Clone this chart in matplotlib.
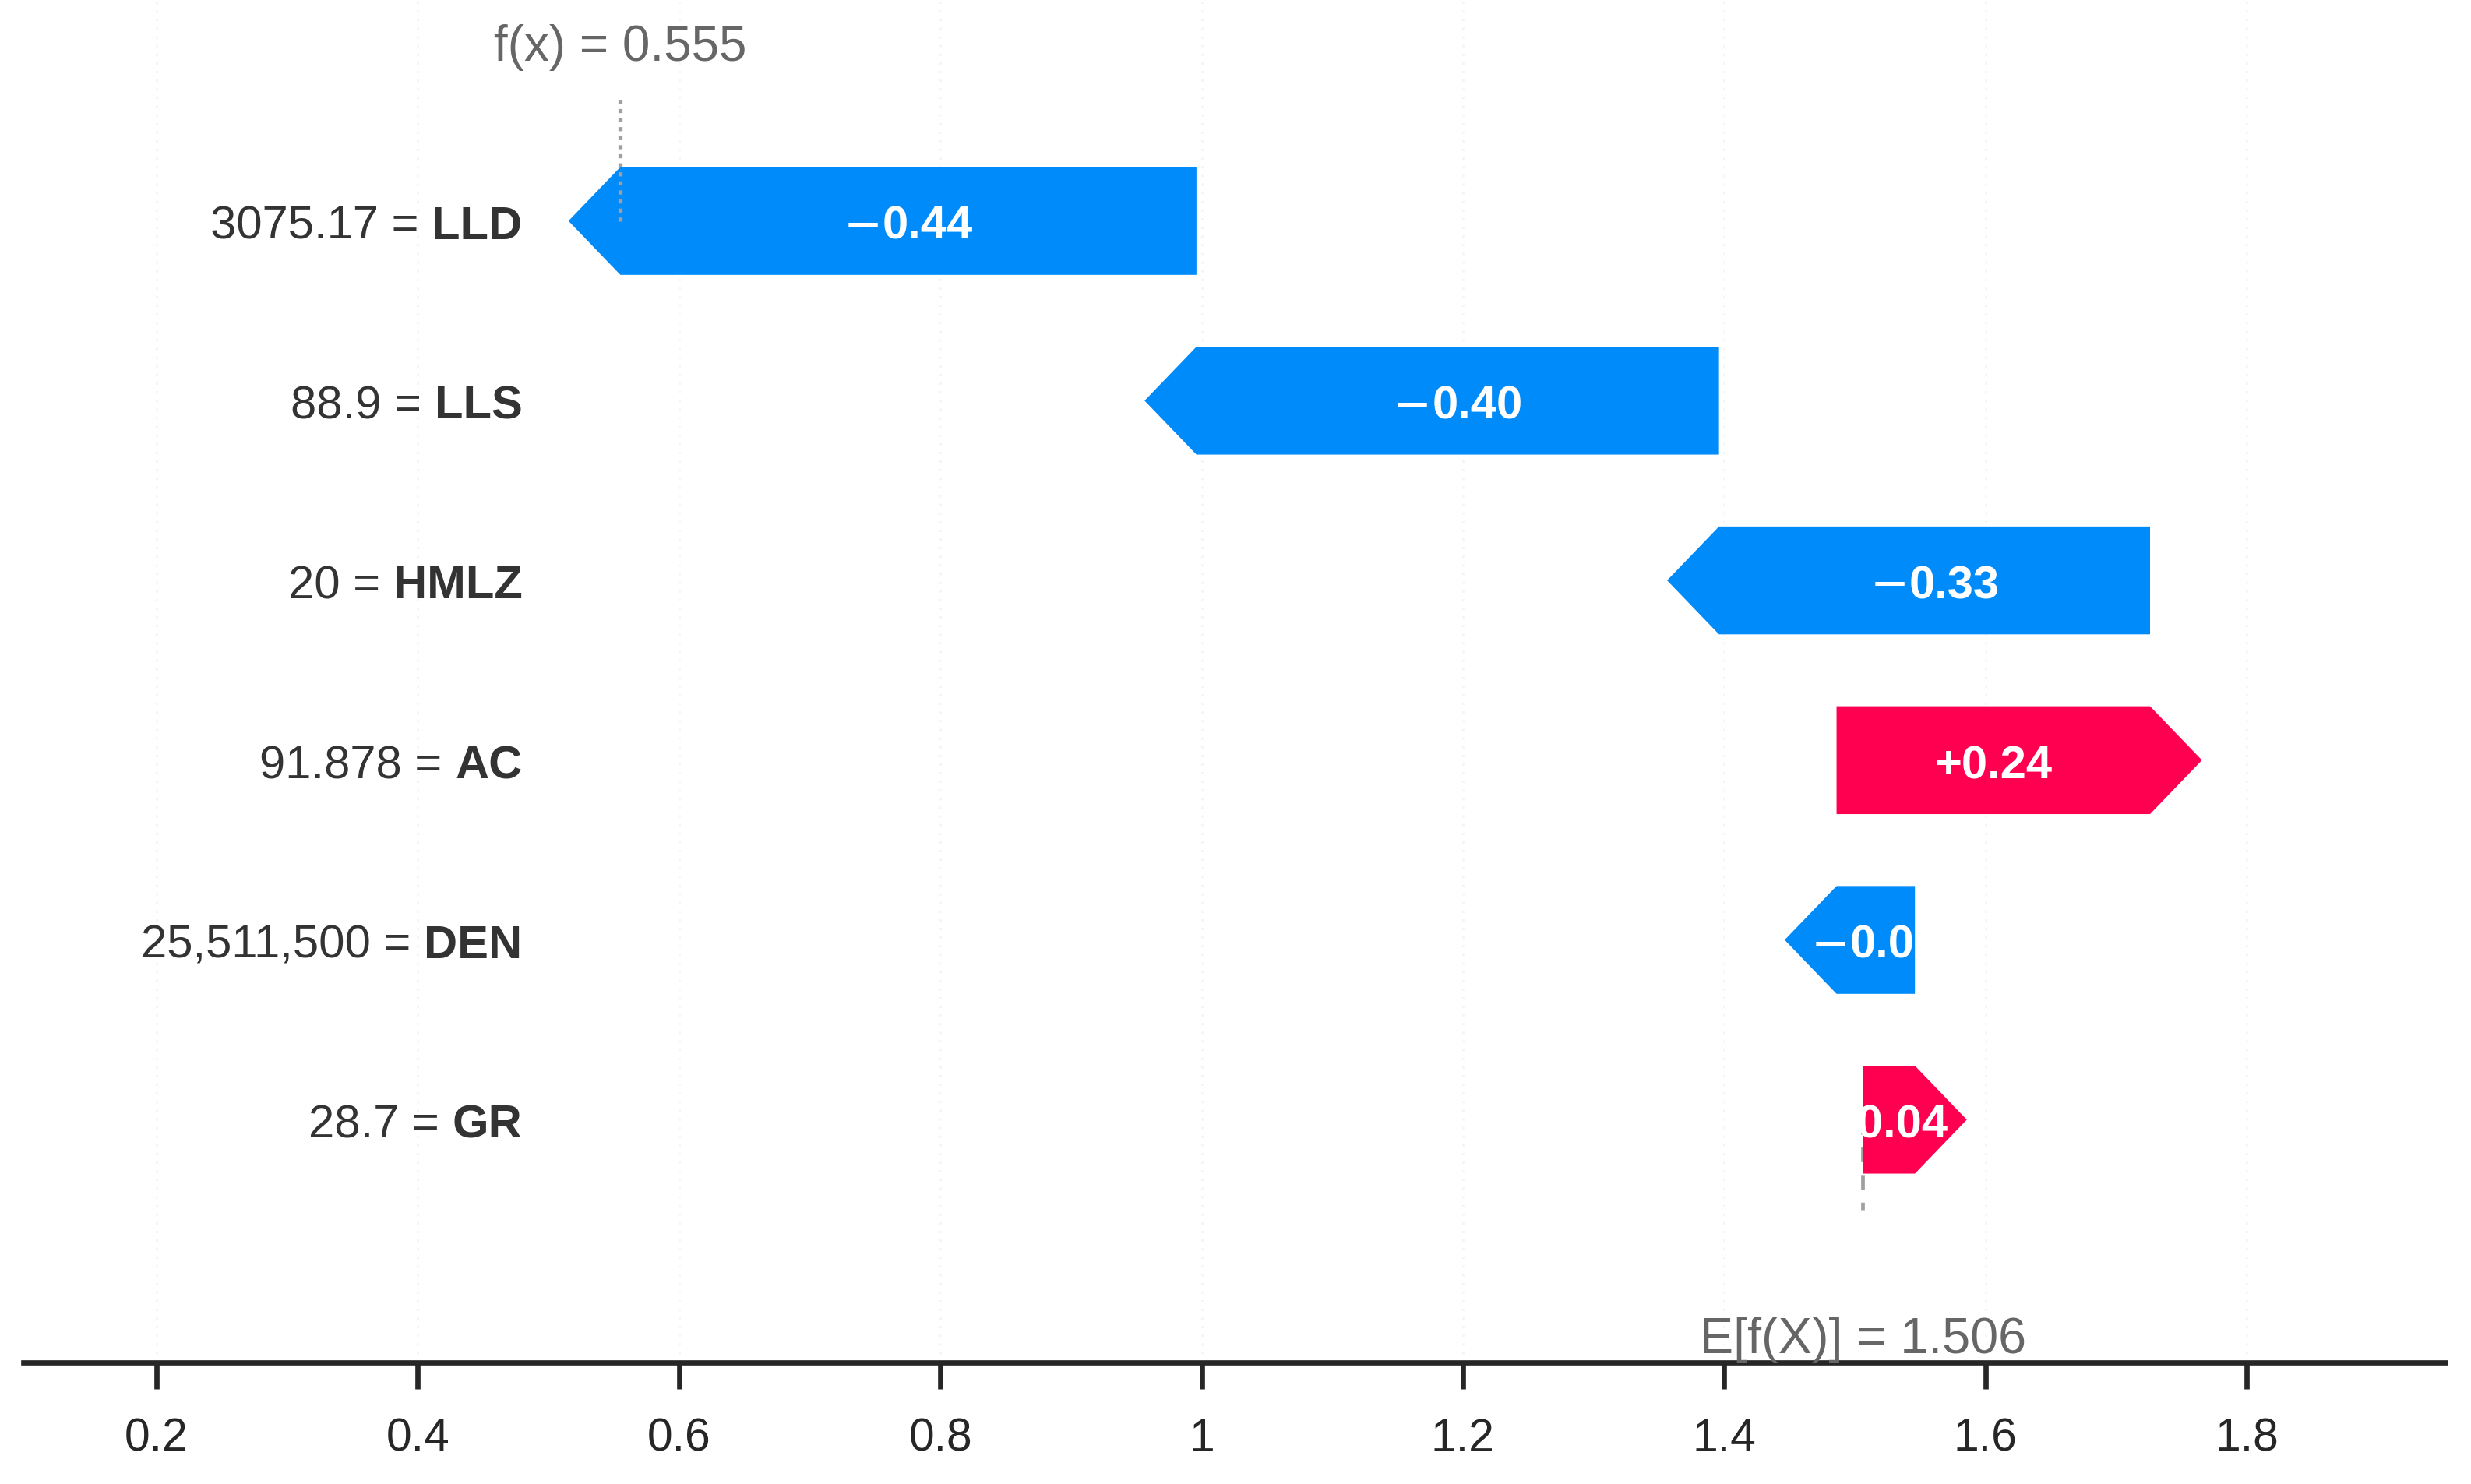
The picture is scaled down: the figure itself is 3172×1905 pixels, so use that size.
import numpy as np
import matplotlib.pyplot as plt
from matplotlib.patches import Polygon
from matplotlib.ticker import FuncFormatter

plt.rcParams['font.family'] = ['Liberation Sans', 'DejaVu Sans']

# data (top row first)
feature_names = ['LLD', 'LLS', 'HMLZ', 'AC', 'DEN', 'GR']
feature_values = ['3075.17', '88.9', '20', '91.878', '25,511,500', '28.7']
shap_values = [-0.441, -0.400, -0.330, 0.240, -0.060, 0.040]
base_value = 1.506
fx_value = 0.555
xtick_values = [0.2, 0.4, 0.6, 0.8, 1.0, 1.2, 1.4, 1.6, 1.8]

BLUE = '#008bfb'
RED = '#ff0051'
FS = 21.5

W, H, DPI = 3172, 1905, 200
fig = plt.figure(figsize=(W / DPI, H / DPI), dpi=DPI)
ax = fig.add_axes([30 / W, 1 - 1748.6 / H, (3139 - 30) / W, 1748.6 / H])
ax.set_xlim(0.098, 1.952)
ax.set_ylim(-1.349, 6.229)
renderer = fig.canvas.get_renderer()

n = len(feature_names)
bar_h = 0.6
head_in = 0.333  # arrow head length in inches
ax_w_in = ax.get_position().width * fig.get_figwidth()
hl = head_in * (ax.get_xlim()[1] - ax.get_xlim()[0]) / ax_w_in

# width of the thin minus sign (falls back to DejaVu in the original)
probe = fig.text(0, 0, '\u2212', fontsize=FS, family='DejaVu Sans')
minus_w_pt = probe.get_window_extent(renderer).width * 72 / DPI
probe.remove()
gap_pt = 0.0

# faint dotted grid at ticks
for t in xtick_values:
    ax.axvline(t, color='#f4f4f4', lw=1.0, ls=(0, (1, 3)), zorder=0)

loc = base_value
for i in range(n - 1, -1, -1):
    y = n - 1 - i
    v = shap_values[i]
    start, end = loc, loc + v
    loc = end
    d = 1 if v >= 0 else -1
    pts = [(start, y - bar_h / 2), (end, y - bar_h / 2), (end + d * hl, y),
           (end, y + bar_h / 2), (start, y + bar_h / 2)]
    poly = Polygon(pts, closed=True, facecolor=RED if v >= 0 else BLUE,
                   edgecolor='none', zorder=2)
    ax.add_patch(poly)
    mid = (start + end) / 2
    if v >= 0:
        txt = ax.annotate('%+0.2f' % v, xy=(mid, y), xytext=(0, -8.4),
                          textcoords='offset points', ha='center', va='baseline',
                          color='white', fontsize=FS, fontweight='bold', zorder=3)
        txt.set_clip_path(poly)
    else:
        num = ax.annotate('%0.2f' % abs(v), xy=(mid, y),
                          xytext=((minus_w_pt + gap_pt) / 2, -8.4),
                          textcoords='offset points', ha='center', va='baseline',
                          color='white', fontsize=FS, fontweight='bold', zorder=3)
        num.set_clip_path(poly)
        mns = ax.annotate('\u2212', xy=(0, 0), xycoords=num, xytext=(-gap_pt, 0),
                          textcoords='offset points', ha='right', va='bottom',
                          color='white', fontsize=FS, family='DejaVu Sans',
                          zorder=3)
        mns.set_clip_path(poly)

    # y label: value = NAME (bold)
    name = ax.annotate(feature_names[i], xy=(0.48, y), xytext=(0, -8.4),
                       textcoords='offset points', ha='right', va='baseline',
                       color='#333333', fontsize=FS, fontweight='bold')
    ax.annotate(feature_values[i] + ' =', xy=(0, 0), xycoords=name,
                xytext=(-6, 0), textcoords='offset points', ha='right',
                va='bottom', color='#333333', fontsize=FS)

# f(x) and E[f(X)] markers
ax.plot([fx_value, fx_value], [n - 1, n - 1 + 0.697], color='#a0a0a0', lw=1.9,
        ls=(0, (1, 1.2)), zorder=4)
ax.text(fx_value, 5.89, 'f(x) = %0.3f' % fx_value, ha='center', va='baseline',
        color='#666666', fontsize=23)
ax.plot([base_value, base_value], [0, -0.5], color='#a0a0a0', lw=1.7,
        ls=(0, (4, 3.5)), zorder=1)
ax.text(base_value, -1.30, 'E[f(X)] = %0.3f' % base_value, ha='center',
        va='baseline', color='#666666', fontsize=23.3)

# axes styling
for s in ['left', 'right', 'top']:
    ax.spines[s].set_visible(False)
ax.spines['bottom'].set_color('#262626')
ax.spines['bottom'].set_linewidth(2.4)
ax.set_yticks([])
ax.set_xticks(xtick_values)
ax.xaxis.set_major_formatter(FuncFormatter(lambda x, p: '{:g}'.format(round(x, 2))))
ax.tick_params(axis='x', direction='out', length=12.2, width=2.4,
               color='#262626', labelcolor='#262626', labelsize=21.2, pad=13.5)

fig.savefig('out.png', dpi=DPI, facecolor='white')
